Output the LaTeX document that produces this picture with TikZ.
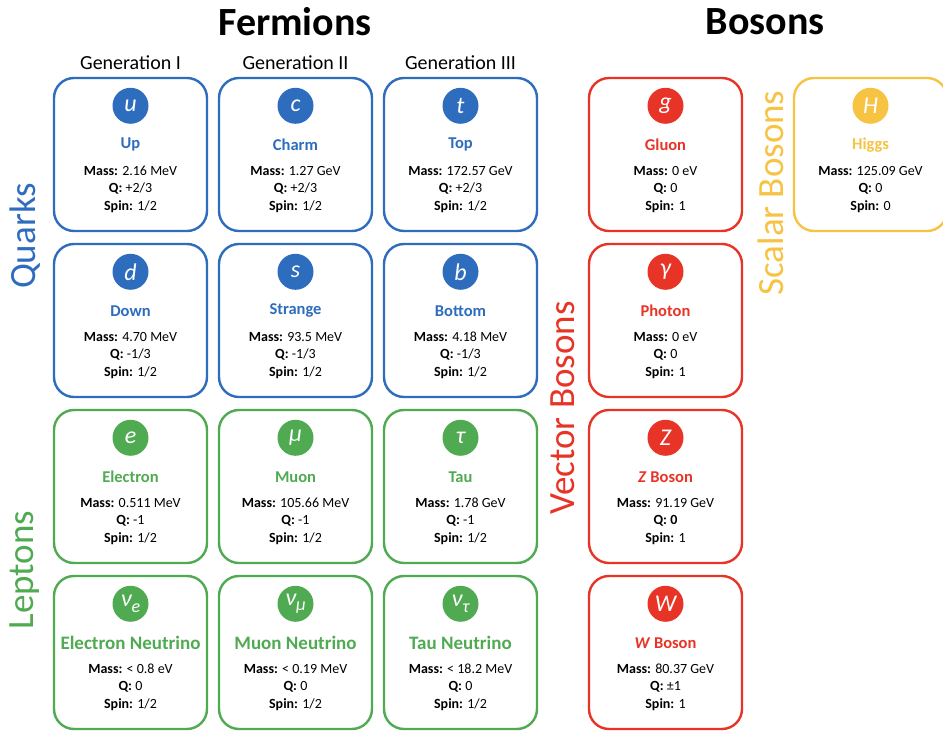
\documentclass[tikz,border=0pt]{standalone}
\usepackage{fontspec}
\setmainfont{Carlito}
\usepackage{xcolor}
\usetikzlibrary{
  positioning,
  calc,
}
\definecolor{quarkblue}{RGB}{46,109,189}
\definecolor{leptongreen}{RGB}{80,170,82}
\definecolor{vectorred}{RGB}{232,52,38}
\definecolor{scalaryellow}{RGB}{246,195,66}
\tikzset{
  cardbox/.style={
    rectangle, line width=2.4pt, fill=white, rounded corners=20pt,
    minimum width=153pt, minimum height=153pt, inner sep=0pt
  },
  symnode/.style={
    circle, minimum size=36pt, inner sep=0pt, text=white,
    font=\fontsize{24}{24}\selectfont\itshape
  },
  namenode/.style={
    inner sep=1pt, font=\fontsize{16.5}{18}\selectfont\bfseries
  },
  infonode/.style={
    inner sep=1pt, align=center, font=\fontsize{14}{17.5}\selectfont
  },
  sidelabel/.style={
    rotate=90, inner sep=0pt, font=\fontsize{37}{37}\selectfont
  },
  genlabel/.style={font=\fontsize{20}{20}\selectfont, inner sep=0pt},
  titlelabel/.style={font=\fontsize{40}{40}\selectfont\bfseries, inner sep=0pt},
}
% one particle card: name, colour, position, symbol, title, mass, Q, spin
\newcommand{\particle}[8]{%
  \node[cardbox, draw=#2] (#1) at #3 {};
  \node[symnode, fill=#2] (#1-sym) at ($(#1.north)+(0,-29)$) {#4};
  \node[namenode, text=#2] (#1-name) at ($(#1.north)+(0,-68)$) {#5};
  \node[infonode] (#1-info) at ($(#1.north)+(0,-112.5)$)
    {\textbf{Mass:} #6\\\textbf{Q:} #7\\\textbf{Spin:} #8};
}
\newcommand{\nusym}[1]{ν\raisebox{-0.5ex}{\fontsize{18}{18}\selectfont #1}}
\newcommand{\bigname}[1]{{\fontsize{19}{20}\selectfont #1}}

\begin{document}
\begin{tikzpicture}[x=1pt, y=1pt]

  \path[use as bounding box, fill=white] (0,0) rectangle (943,731);

  % ── Titles ──
  \node[titlelabel] (fermions) at (295,709) {Fermions};
  \node[titlelabel] (bosons) at (765,709) {Bosons};

  % ── Generations ──
  \node[genlabel] (gen1) at (130.5,668) {Generation I};
  \node[genlabel] (gen2) at (295.5,668) {Generation II};
  \node[genlabel] (gen3) at (460.5,668) {Generation III};

  % ── Quarks ──
  \particle{up}{quarkblue}{(130.5,576.5)}{u}{Up}{2.16 MeV}{+2/3}{1/2}
  \particle{charm}{quarkblue}{(295.5,576.5)}{c}{Charm}{1.27 GeV}{+2/3}{1/2}
  \particle{top}{quarkblue}{(460.5,576.5)}{t}{Top}{172.57 GeV}{+2/3}{1/2}
  \particle{down}{quarkblue}{(130.5,410.5)}{d}{Down}{4.70 MeV}{-1/3}{1/2}
  \particle{strange}{quarkblue}{(295.5,410.5)}{s}{Strange}{93.5 MeV}{-1/3}{1/2}
  \particle{bottom}{quarkblue}{(460.5,410.5)}{b}{Bottom}{4.18 MeV}{-1/3}{1/2}

  % ── Leptons ──
  \particle{electron}{leptongreen}{(130.5,244.5)}{e}{Electron}{0.511 MeV}{-1}{1/2}
  \particle{muon}{leptongreen}{(295.5,244.5)}{μ}{Muon}{105.66 MeV}{-1}{1/2}
  \particle{tau}{leptongreen}{(460.5,244.5)}{τ}{Tau}{1.78 GeV}{-1}{1/2}
  \particle{nue}{leptongreen}{(130.5,78.5)}{\nusym{e}}{\bigname{Electron Neutrino}}{< 0.8 eV}{0}{1/2}
  \particle{numu}{leptongreen}{(295.5,78.5)}{\nusym{μ}}{\bigname{Muon Neutrino}}{< 0.19 MeV}{0}{1/2}
  \particle{nutau}{leptongreen}{(460.5,78.5)}{\nusym{τ}}{\bigname{Tau Neutrino}}{< 18.2 MeV}{0}{1/2}

  % ── Vector bosons ──
  \particle{gluon}{vectorred}{(665.5,576.5)}{g}{Gluon}{0 eV}{0}{1}
  \particle{photon}{vectorred}{(665.5,410.5)}{γ}{Photon}{0 eV}{0}{1}
  \particle{zboson}{vectorred}{(665.5,244.5)}{Z}{\textit{Z} Boson}{91.19 GeV}{\textbf{0}}{1}
  \particle{wboson}{vectorred}{(665.5,78.5)}{W}{\textit{W} Boson}{80.37 GeV}{±1}{1}

  % ── Scalar boson ──
  \particle{higgs}{scalaryellow}{(870.5,576.5)}{H}{Higgs}{125.09 GeV}{0}{0}

  % ── Side labels ──
  \node[sidelabel, text=quarkblue] (quarks) at (25,495) {Quarks};
  \node[sidelabel, text=leptongreen] (leptons) at (25,161) {Leptons};
  \node[sidelabel, text=vectorred] (vector) at (563,323) {Vector Bosons};
  \node[sidelabel, text=scalaryellow] (scalar) at (771,538) {Scalar Bosons};

\end{tikzpicture}
\end{document}
